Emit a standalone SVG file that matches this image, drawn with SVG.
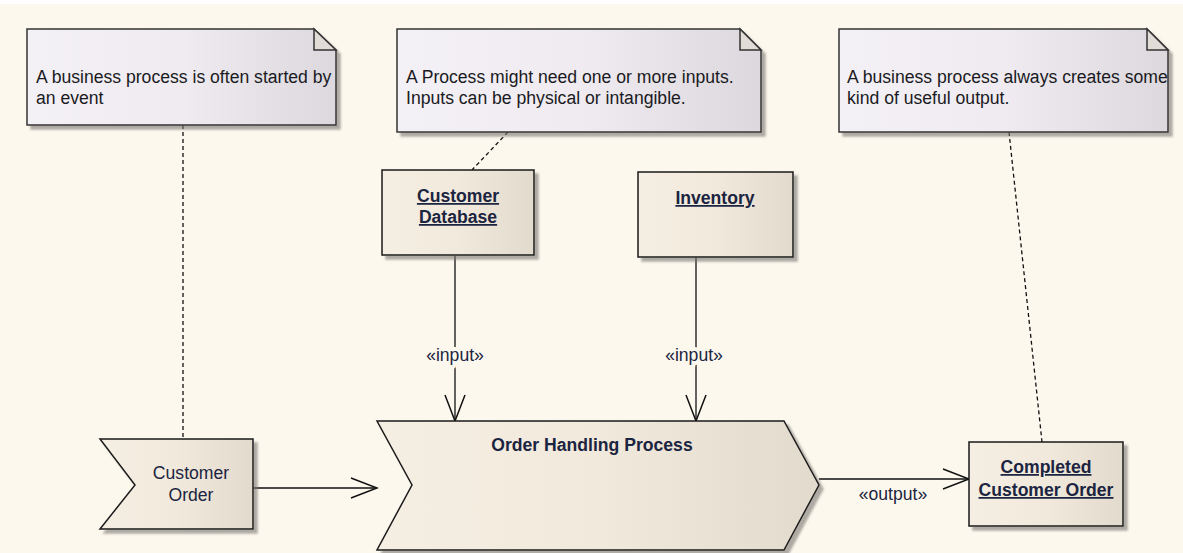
<svg xmlns="http://www.w3.org/2000/svg" width="1183" height="553" viewBox="0 0 1183 553">
<style>
  text { font-family: "Liberation Sans", Arial, sans-serif; font-size: 17.6px; }
  .note { fill: url(#noteGrad); stroke: #333; stroke-width: 1.5; filter: url(#shadow); }
  .fold { fill: #E2DCD6; stroke: #333; stroke-width: 1.5; }
  .node { fill: url(#nodeGrad); stroke: #1a1a1a; stroke-width: 1.5; filter: url(#shadow); }
  .ntext { fill: #1a1a22; }
  .label { fill: #1b2440; text-anchor: middle; }
  .bold { font-weight: bold; }
  .ul { text-decoration: underline; }
  .conn { fill: none; stroke: #111; stroke-width: 1.3; }
  .dash { fill: none; stroke: #111; stroke-width: 1.3; stroke-dasharray: 4 3; }
  .clabel { fill: #1b2440; text-anchor: middle; stroke: #FCF8EE; stroke-width: 8; paint-order: stroke; stroke-linejoin: round; }
</style>
<defs>
  <linearGradient id="noteGrad" x1="0" y1="0" x2="1" y2="0">
    <stop offset="0" stop-color="#F4F1F6"/>
    <stop offset="0.5" stop-color="#EFEBF0"/>
    <stop offset="1" stop-color="#DCD8DE"/>
  </linearGradient>
  <linearGradient id="nodeGrad" x1="0" y1="0" x2="1" y2="0">
    <stop offset="0" stop-color="#F5EEE2"/>
    <stop offset="0.5" stop-color="#F1E9DC"/>
    <stop offset="1" stop-color="#E2DACD"/>
  </linearGradient>
  <filter id="shadow" x="-10%" y="-10%" width="130%" height="130%">
    <feDropShadow dx="4" dy="4" stdDeviation="1.2" flood-color="#7a7670" flood-opacity="0.6"/>
  </filter>
  <marker id="open" viewBox="-28 -12 30 24" refX="0" refY="0" markerWidth="30" markerHeight="24" markerUnits="userSpaceOnUse" orient="auto">
    <path d="M-26,-10 L0,0 L-26,10" fill="none" stroke="#111" stroke-width="1.5"/>
  </marker>
</defs>
<rect x="0" y="0" width="1183" height="553" fill="#FCF8EE"/>
<rect x="0" y="0" width="1183" height="4" fill="#FFFFFF"/>

<g id="connectors">
  <path class="dash" d="M183,125 L183,439"/>
  <path class="dash" d="M508,132 L472,170"/>
  <path class="dash" d="M1009,132 L1042,442"/>
  <path class="conn" d="M253,488 L377,488" marker-end="url(#open)"/>
  <path class="conn" d="M455,256 L455,421" marker-end="url(#open)"/>
  <path class="conn" d="M696,257 L696,421" marker-end="url(#open)"/>
  <path class="conn" d="M819,479 L969,479" marker-end="url(#open)"/>
  <text class="clabel" x="455" y="361">«input»</text>
  <text class="clabel" x="694" y="361">«input»</text>
  <text class="clabel" x="893" y="500" style="stroke:none">«output»</text>
</g>

<g id="note1">
  <path class="note" d="M27,29 L314,29 L336,50 L336,125 L27,125 Z"/>
  <path class="fold" d="M314,29 L314,50 L336,50 Z"/>
  <text class="ntext" x="36" y="83">A business process is often started by</text>
  <text class="ntext" x="36" y="104">an event</text>
</g>

<g id="note2">
  <path class="note" d="M397,29 L740,29 L761,50 L761,132 L397,132 Z"/>
  <path class="fold" d="M740,29 L740,50 L761,50 Z"/>
  <text class="ntext" x="406" y="83">A Process might need one or more inputs.</text>
  <text class="ntext" x="406" y="104">Inputs can be physical or intangible.</text>
</g>

<g id="note3">
  <path class="note" d="M839,29 L1147,29 L1168,50 L1168,132 L839,132 Z"/>
  <path class="fold" d="M1147,29 L1147,50 L1168,50 Z"/>
  <text class="ntext" x="847" y="83">A business process always creates some</text>
  <text class="ntext" x="847" y="104">kind of useful output.</text>
</g>

<g id="customer-database">
  <rect class="node" x="382" y="170" width="152" height="85"/>
  <text class="label bold ul" x="458" y="202">Customer</text>
  <text class="label bold ul" x="458" y="223">Database</text>
</g>

<g id="inventory">
  <rect class="node" x="638" y="172" width="155" height="85"/>
  <text class="label bold ul" x="715" y="204">Inventory</text>
</g>

<g id="customer-order">
  <path class="node" d="M100,439 L253,439 L253,529 L100,529 L135,485 Z"/>
  <text class="label" x="191" y="479">Customer</text>
  <text class="label" x="191" y="501">Order</text>
</g>

<g id="order-handling-process">
  <path class="node" d="M377,421 L784,421 L819,485 L784,550 L377,550 L412,485 Z"/>
  <text class="label bold" x="592" y="451">Order Handling Process</text>
</g>

<g id="completed-customer-order">
  <rect class="node" x="969" y="442" width="154" height="84"/>
  <text class="label bold ul" x="1046" y="473">Completed</text>
  <text class="label bold ul" x="1046" y="496">Customer Order</text>
</g>
</svg>
